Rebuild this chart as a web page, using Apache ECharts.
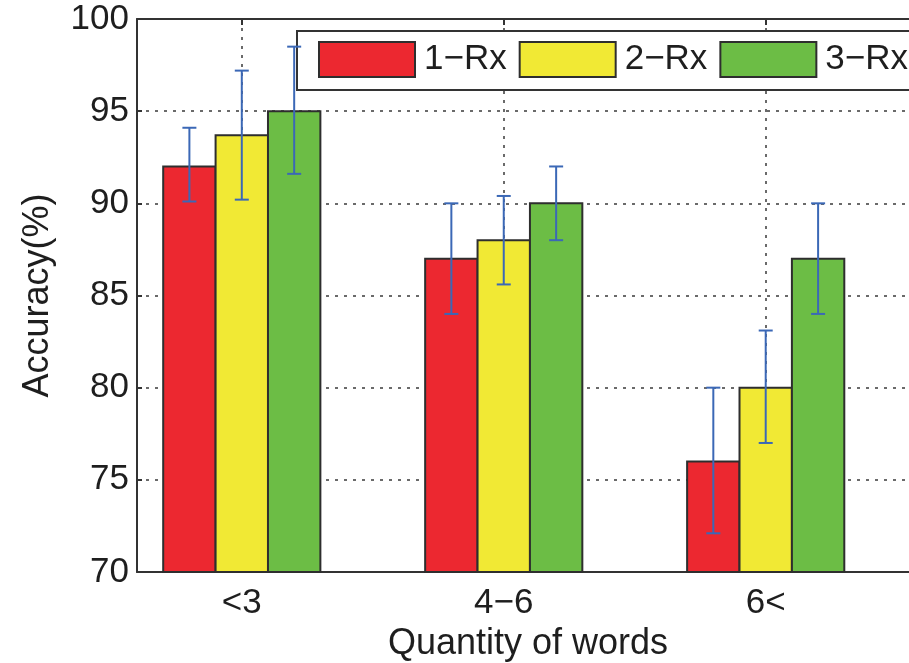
<!DOCTYPE html>
<html>
<head>
<meta charset="utf-8">
<script src="https://cdn.jsdelivr.net/npm/echarts@6/dist/echarts.min.js"></script>
<style>
html,body{margin:0;padding:0;background:#fff;}
#chart{width:909px;height:663px;}
</style>
</head>
<body>
<div id="chart"></div>
<script>
// ---- data ----
const categories = ['<3', '4\u22126', '6<'];
const categoryPos = [1, 2, 3];
const seriesNames = ['1\u2212Rx', '2\u2212Rx', '3\u2212Rx'];
const acc1 = [92.0, 87.0, 76.0];
const acc2 = [93.7, 88.0, 80.0];
const acc3 = [95.0, 90.0, 87.0];
const low1 = [90.1, 84.0, 72.1];
const high1 = [94.1, 90.0, 80.0];
const low2 = [90.2, 85.6, 77.0];
const high2 = [97.2, 90.4, 83.1];
const low3 = [91.6, 88.0, 84.0];
const high3 = [98.5, 92.0, 90.0];
const yTicks = [70, 75, 80, 85, 90, 95, 100];

// ---- styles ----
const colors = ['#ec2830', '#f1e934', '#6cbd45'];
const offsets = [-0.2, 0, 0.2];
const barW = 0.2;
const errColor = '#3b68b6';
const FONT = "'Liberation Sans', Arial, Helvetica, sans-serif";
const txt = '#1e1e1e';

const accs = [acc1, acc2, acc3];
const lows = [low1, low2, low3];
const highs = [high1, high2, high3];

function barRenderer(k) {
  return function (params, api) {
    const x = api.value(0) + offsets[k];
    const y = api.value(1);
    const p0 = api.coord([x - barW / 2, y]);
    const p1 = api.coord([x + barW / 2, 70]);
    return {
      type: 'rect',
      shape: { x: p0[0], y: p0[1], width: p1[0] - p0[0], height: p1[1] - p0[1] },
      style: { fill: colors[k], stroke: '#2e2e2e', lineWidth: 2 }
    };
  };
}
function errRenderer(k) {
  return function (params, api) {
    const x = api.value(0) + offsets[k];
    const lo = api.coord([x, api.value(1)]);
    const hi = api.coord([x, api.value(2)]);
    const cw = 7;
    const st = { stroke: errColor, lineWidth: 2 };
    return {
      type: 'group',
      children: [
        { type: 'line', shape: { x1: lo[0], y1: lo[1], x2: hi[0], y2: hi[1] }, style: st },
        { type: 'line', shape: { x1: lo[0] - cw, y1: lo[1], x2: lo[0] + cw, y2: lo[1] }, style: st },
        { type: 'line', shape: { x1: hi[0] - cw, y1: hi[1], x2: hi[0] + cw, y2: hi[1] }, style: st }
      ]
    };
  };
}

const series = [];
for (let k = 0; k < 3; k++) {
  series.push({
    name: seriesNames[k],
    type: 'custom',
    renderItem: barRenderer(k),
    itemStyle: { color: colors[k], borderColor: '#2e2e2e', borderWidth: 2 },
    data: categoryPos.map((c, i) => [c, accs[k][i]]),
    encode: { x: 0, y: 1 },
    z: 3
  });
}
for (let k = 0; k < 3; k++) {
  series.push({
    name: 'err' + k,
    type: 'custom',
    renderItem: errRenderer(k),
    data: categoryPos.map((c, i) => [c, lows[k][i], highs[k][i]]),
    encode: { x: 0, y: [1, 2] },
    z: 4
  });
}

const gridLine = { show: true, lineStyle: { color: '#3a3a3a', width: 1.5, type: [3, 6] } };

const option = {
  animation: false,
  backgroundColor: '#fff',
  grid: { left: 137, top: 19, right: 0, height: 553, outerBoundsMode: 'none', containLabel: false },
  legend: {
    data: seriesNames,
    left: 297,
    top: 31,
    width: 700,
    orient: 'horizontal',
    icon: 'rect',
    itemWidth: 96,
    itemHeight: 35,
    itemGap: 12,
    padding: [10, 60, 12, 21],
    borderColor: '#333',
    borderWidth: 2,
    backgroundColor: '#fff',
    itemStyle: { borderColor: '#2e2e2e', borderWidth: 2 },
    textStyle: { fontFamily: FONT, fontSize: 35, color: txt, padding: [0, 0, 0, 4] },
    selectedMode: false
  },
  xAxis: [{
    type: 'value',
    min: 0.6,
    max: 3.547,
    position: 'bottom',
    name: 'Quantity of words',
    nameLocation: 'middle',
    nameGap: 46,
    nameTextStyle: { fontFamily: FONT, fontSize: 36, color: txt, padding: [0, 0, 0, 10] },
    axisLine: { show: true, onZero: false, lineStyle: { color: '#333', width: 2 } },
    axisTick: { show: true, inside: true, length: 6, customValues: categoryPos, lineStyle: { color: '#333', width: 2 } },
    axisLabel: {
      show: true, margin: 14, customValues: categoryPos,
      fontFamily: FONT, fontSize: 35, color: txt,
      formatter: function (v) { const i = categoryPos.indexOf(Math.round(v)); return i >= 0 ? categories[i] : ''; }
    },
    splitLine: gridLine
  }, {
    type: 'value',
    min: 0.6,
    max: 3.547,
    position: 'top',
    axisLine: { show: true, onZero: false, lineStyle: { color: '#333', width: 2 } },
    axisTick: { show: true, inside: true, length: 6, customValues: categoryPos, lineStyle: { color: '#333', width: 2 } },
    axisLabel: { show: false },
    splitLine: { show: false }
  }],
  yAxis: [{
    type: 'value',
    min: 70,
    max: 100,
    interval: 5,
    name: 'Accuracy(%)',
    nameLocation: 'middle',
    nameGap: 81,
    nameTextStyle: { fontFamily: FONT, fontSize: 36, color: txt },
    axisLine: { show: true, onZero: false, lineStyle: { color: '#333', width: 2 } },
    axisTick: { show: true, inside: true, length: 5, lineStyle: { color: '#333', width: 2 } },
    axisLabel: { margin: 8, fontFamily: FONT, fontSize: 35, color: txt,
      formatter: function (v) { return yTicks.indexOf(v) >= 0 ? String(v) : ''; } },
    splitLine: gridLine
  }],
  series: series
};

const chart = echarts.init(document.getElementById('chart'), null, { renderer: 'canvas' });
chart.setOption(option);
</script>
</body>
</html>
